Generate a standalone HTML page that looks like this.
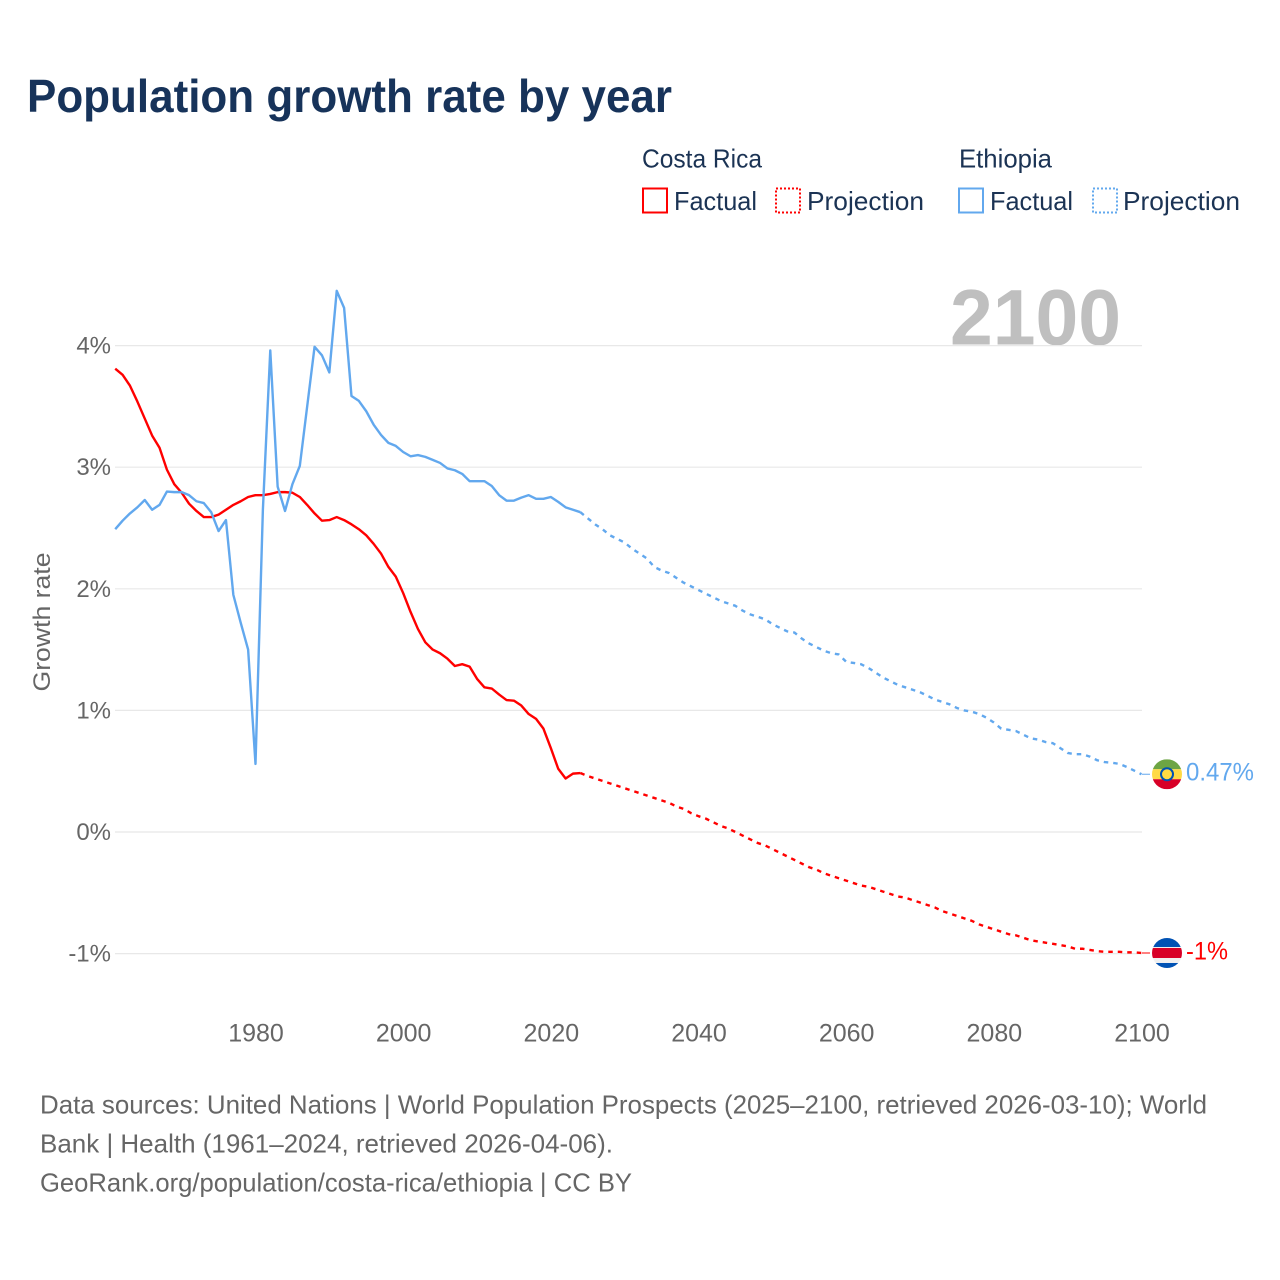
<!DOCTYPE html>
<html lang="en">
<head>
<meta charset="utf-8">
<title>Population growth rate by year</title>
<style>
html,body{margin:0;padding:0;background:#fff;width:1280px;height:1280px;overflow:hidden}
svg{display:block}
text{font-family:"Liberation Sans",sans-serif}
</style>
</head>
<body>
<svg id="chart" width="1280" height="1280" viewBox="0 0 1280 1280" xmlns="http://www.w3.org/2000/svg">
  <defs>
    <clipPath id="flag-clip"><circle cx="0" cy="0" r="15"></circle></clipPath>
  </defs>
  <rect width="1280" height="1280" fill="#ffffff"></rect>
  <text x="27" y="112" font-size="46" font-weight="700" fill="#17335a" textLength="645" lengthAdjust="spacingAndGlyphs">Population growth rate by year</text>

  <g font-size="26" fill="#1b3354">
    <text x="642" y="167.500" textLength="120" lengthAdjust="spacingAndGlyphs">Costa Rica</text>
    <text x="959" y="167.500" textLength="93" lengthAdjust="spacingAndGlyphs">Ethiopia</text>
    <rect x="643" y="188.500" width="24" height="24" fill="none" stroke="#ff0000" stroke-width="2"></rect>
    <text x="674" y="210" textLength="83" lengthAdjust="spacingAndGlyphs">Factual</text>
    <rect x="776" y="188.500" width="24" height="24" fill="none" stroke="#ff0000" stroke-width="2" stroke-dasharray="2 2"></rect>
    <text x="807" y="210" textLength="117" lengthAdjust="spacingAndGlyphs">Projection</text>
    <rect x="959" y="188.500" width="24" height="24" fill="none" stroke="#62a8ee" stroke-width="2"></rect>
    <text x="990" y="210" textLength="83" lengthAdjust="spacingAndGlyphs">Factual</text>
    <rect x="1093" y="188.500" width="24" height="24" fill="none" stroke="#62a8ee" stroke-width="2" stroke-dasharray="2 2"></rect>
    <text x="1123" y="210" textLength="117" lengthAdjust="spacingAndGlyphs">Projection</text>
  </g>

  <text x="950" y="344.500" font-size="79" font-weight="700" fill="#bfbfbf" textLength="171" lengthAdjust="spacingAndGlyphs">2100</text>

  <g id="grid"></g>
  <g id="y-ticks" font-size="24" fill="#666666" text-anchor="end"></g>
  <g id="x-ticks" font-size="25" fill="#666666" text-anchor="middle"></g>
  <text transform="translate(50 622) rotate(-90)" font-size="24" fill="#666666" text-anchor="middle" textLength="139" lengthAdjust="spacingAndGlyphs">Growth rate</text>

  <g id="series" fill="none" stroke-width="2.400" stroke-linejoin="round"></g>

  <g id="flag-ethiopia">
    <g clip-path="url(#flag-clip)">
      <rect x="-15" y="-15" width="30" height="10" fill="#6da544"></rect>
      <rect x="-15" y="-5" width="30" height="10" fill="#ffda44"></rect>
      <rect x="-15" y="5" width="30" height="10" fill="#d80027"></rect>
      <circle r="7" fill="#0052b4"></circle>
      <circle r="5" fill="#ffda44"></circle>
    </g>
  </g>
  <g id="flag-costa-rica">
    <g clip-path="url(#flag-clip)">
      <rect x="-15" y="-15" width="30" height="30" fill="#f0f0f0"></rect>
      <rect x="-15" y="-15" width="30" height="9" fill="#0052b4"></rect>
      <rect x="-15" y="-5" width="30" height="10" fill="#d80027"></rect>
      <rect x="-15" y="10" width="30" height="5" fill="#0052b4"></rect>
    </g>
  </g>
  <text id="label-ethiopia" x="1186" font-size="25" fill="#62a8ee" textLength="68" lengthAdjust="spacingAndGlyphs">0.47%</text>
  <text id="label-costa-rica" x="1186" font-size="25" fill="#ff0000" textLength="42" lengthAdjust="spacingAndGlyphs">-1%</text>

  <g font-size="26" fill="#666666">
    <text x="40" y="1113.500" textLength="1167" lengthAdjust="spacingAndGlyphs">Data sources: United Nations | World Population Prospects (2025–2100, retrieved 2026-03-10); World</text>
    <text x="40" y="1152.500" textLength="573" lengthAdjust="spacingAndGlyphs">Bank | Health (1961–2024, retrieved 2026-04-06).</text>
    <text x="40" y="1191.500" textLength="592" lengthAdjust="spacingAndGlyphs">GeoRank.org/population/costa-rica/ethiopia | CC BY</text>
  </g>
</svg>
<script>
var yTickValues = [4, 3, 2, 1, 0, -1];
var yTickLabels = ["4%", "3%", "2%", "1%", "0%", "-1%"];
var xTickValues = [1980, 2000, 2020, 2040, 2060, 2080, 2100];
var xTickLabels = ["1980", "2000", "2020", "2040", "2060", "2080", "2100"];
var factualStartYear = 1961;
var projectionStartYear = 2024;

var costaRicaFactual = [3.81,3.76,3.67,3.54,3.40,3.26,3.16,2.98,2.86,2.79,2.70,2.64,2.59,2.59,2.61,2.65,2.69,2.72,2.755,2.77,2.77,2.78,2.795,2.795,2.79,2.755,2.69,2.62,2.56,2.565,2.59,2.565,2.53,2.49,2.44,2.37,2.29,2.18,2.10,1.965,1.81,1.67,1.56,1.50,1.47,1.425,1.365,1.38,1.36,1.26,1.19,1.18,1.13,1.085,1.08,1.04,0.97,0.93,0.85,0.69,0.52,0.44,0.48,0.485];
var costaRicaProjection = [0.485,0.46,0.44,0.42,0.40,0.38,0.36,0.34,0.32,0.30,0.28,0.26,0.24,0.21,0.19,0.155,0.13,0.11,0.08,0.05,0.03,0.00,-0.03,-0.06,-0.09,-0.11,-0.14,-0.17,-0.20,-0.23,-0.26,-0.29,-0.31,-0.34,-0.36,-0.38,-0.40,-0.42,-0.44,-0.45,-0.47,-0.49,-0.51,-0.53,-0.54,-0.56,-0.58,-0.60,-0.62,-0.65,-0.67,-0.69,-0.71,-0.73,-0.76,-0.78,-0.80,-0.82,-0.84,-0.85,-0.87,-0.89,-0.90,-0.91,-0.92,-0.93,-0.94,-0.96,-0.96,-0.97,-0.98,-0.985,-0.985,-0.985,-0.99,-0.99,-0.995];

var ethiopiaFactual = [2.49,2.56,2.62,2.67,2.73,2.65,2.69,2.80,2.795,2.795,2.77,2.72,2.705,2.63,2.475,2.565,1.95,1.72,1.50,0.56,2.65,3.96,2.84,2.64,2.86,3.01,3.50,3.99,3.92,3.78,4.45,4.31,3.585,3.545,3.46,3.35,3.265,3.20,3.175,3.125,3.09,3.10,3.085,3.06,3.035,2.99,2.975,2.945,2.885,2.885,2.885,2.845,2.77,2.725,2.725,2.75,2.77,2.74,2.74,2.755,2.715,2.67,2.65,2.63];
var ethiopiaProjection = [2.63,2.58,2.53,2.49,2.44,2.41,2.38,2.33,2.29,2.25,2.18,2.15,2.13,2.09,2.05,2.02,1.99,1.96,1.93,1.90,1.88,1.86,1.82,1.79,1.77,1.75,1.71,1.68,1.65,1.64,1.59,1.55,1.52,1.49,1.47,1.46,1.40,1.39,1.38,1.35,1.31,1.27,1.24,1.21,1.19,1.17,1.15,1.12,1.09,1.07,1.05,1.02,1.00,0.99,0.97,0.94,0.90,0.85,0.84,0.83,0.80,0.77,0.76,0.74,0.73,0.69,0.65,0.64,0.64,0.62,0.59,0.575,0.57,0.56,0.535,0.505,0.475];

function xScale(year) { return 256 + (year - 1980) * (1142 - 256) / 120; }
function yScale(value) { return 832 - value * 121.6; }
var NS = "http://www.w3.org/2000/svg";

function linePath(startYear, values) {
  var d = "";
  for (var i = 0; i < values.length; i++) {
    d += (i ? "L" : "M") + (xScale(startYear + i) - 0.5).toFixed(2) + " " + yScale(values[i]).toFixed(2);
  }
  return d;
}

var grid = document.getElementById("grid");
var yTicks = document.getElementById("y-ticks");
var xTicks = document.getElementById("x-ticks");
var series = document.getElementById("series");

yTickValues.forEach(function (v, i) {
  var line = document.createElementNS(NS, "line");
  
  
  line.setAttribute("x1", 115);
  line.setAttribute("x2", 1142);
  line.setAttribute("y1", yScale(v));
  line.setAttribute("y2", yScale(v));
  line.setAttribute("stroke", "#e8e8e8");
  line.setAttribute("stroke-width", "1.2");
  grid.appendChild(line);

  var label = document.createElementNS(NS, "text");
  
  
  label.setAttribute("x", 111);
  label.setAttribute("y", yScale(v) + 8);
  label.textContent = yTickLabels[i];
  yTicks.appendChild(label);
});

xTickValues.forEach(function (v, i) {
  var label = document.createElementNS(NS, "text");
  
  
  label.setAttribute("x", xScale(v));
  label.setAttribute("y", 1041.5);
  label.textContent = xTickLabels[i];
  xTicks.appendChild(label);
});

function addSeries(startYear, values, color, dashed, name) {
  var path = document.createElementNS(NS, "path");
  
  
  path.setAttribute("d", linePath(startYear, values));
  path.setAttribute("stroke", color);
  if (dashed) { path.setAttribute("stroke-dasharray", "4.500 5"); }
  series.appendChild(path);
}
addSeries(factualStartYear, costaRicaFactual, "#ff0000", false, "costa-rica-factual-line");
addSeries(projectionStartYear, costaRicaProjection, "#ff0000", true, "costa-rica-projection-line");
addSeries(factualStartYear, ethiopiaFactual, "#62a8ee", false, "ethiopia-factual-line");
addSeries(projectionStartYear, ethiopiaProjection, "#62a8ee", true, "ethiopia-projection-line");

function placeEnd(values, color, flagId, labelId, leaderName) {
  var last = yScale(values[values.length - 1]);
  var leader = document.createElementNS(NS, "line");
  
  
  leader.setAttribute("x1", 1142);
  leader.setAttribute("x2", 1150);
  leader.setAttribute("y1", last);
  leader.setAttribute("y2", last);
  leader.setAttribute("stroke", color);
  leader.setAttribute("stroke-width", "1");
  series.appendChild(leader);
  document.getElementById(flagId).setAttribute("transform", "translate(1167 " + last + ")");
  document.getElementById(labelId).setAttribute("y", last + 6.5);
}
placeEnd(ethiopiaProjection, "#62a8ee", "flag-ethiopia", "label-ethiopia", "ethiopia-leader-line");
placeEnd(costaRicaProjection, "#ff0000", "flag-costa-rica", "label-costa-rica", "costa-rica-leader-line");
</script>
</body>
</html>
